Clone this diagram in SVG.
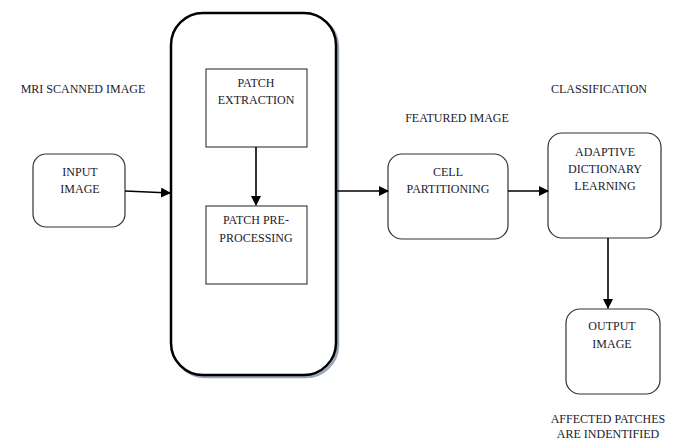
<svg xmlns="http://www.w3.org/2000/svg" width="681" height="441" viewBox="0 0 681 441">
<style>
text{font-size:12px;fill:#1a1a2e;text-anchor:middle}
.rb{fill:#fff;stroke:#333;stroke-width:1.2}
.sq{fill:#fff;stroke:#444;stroke-width:1.2}
.ln{stroke:#000;stroke-width:1.6;fill:none}
</style>
<defs>
<marker id="ah" markerWidth="10" markerHeight="10" refX="9" refY="5" orient="auto" markerUnits="userSpaceOnUse">
<path d="M0,0 L10,5 L0,10 Z" fill="#000"/>
</marker>
</defs>
<rect width="681" height="441" fill="#fff"/>
<g font-family="Liberation Serif, serif">
<text x="83" y="93">MRI SCANNED IMAGE</text>
<text x="457" y="122">FEATURED IMAGE</text>
<text x="599" y="93">CLASSIFICATION</text>
<text x="608" y="423">AFFECTED PATCHES</text>
<text x="608" y="438">ARE INDENTIFIED</text>
<g id="input">
<rect class="rb" x="33" y="154" width="92" height="73" rx="13"/>
<text x="80" y="176">INPUT</text>
<text x="80" y="193">IMAGE</text>
</g>
<g id="container">
<rect x="173" y="15" width="165" height="362" rx="32" fill="none" stroke="#9aa6b8" stroke-width="2.5"/>
<rect x="171" y="13" width="165" height="362" rx="32" fill="#fff" stroke="#000" stroke-width="2.5"/>
</g>
<g id="extraction">
<rect class="sq" x="206" y="69" width="101" height="78"/>
<text x="256" y="87">PATCH</text>
<text x="256" y="104">EXTRACTION</text>
</g>
<g id="preprocessing">
<rect class="sq" x="206" y="206" width="101" height="78"/>
<text x="256" y="224">PATCH PRE-</text>
<text x="256" y="242">PROCESSING</text>
</g>
<g id="cell">
<rect class="rb" x="388" y="154" width="120" height="85" rx="14"/>
<text x="448" y="176">CELL</text>
<text x="448" y="193">PARTITIONING</text>
</g>
<g id="adl">
<rect class="rb" x="548" y="133" width="113" height="105" rx="14"/>
<text x="605" y="156">ADAPTIVE</text>
<text x="605" y="173">DICTIONARY</text>
<text x="605" y="190">LEARNING</text>
</g>
<g id="output">
<rect class="rb" x="566" y="309" width="94" height="85" rx="14"/>
<text x="612" y="330">OUTPUT</text>
<text x="612" y="348">IMAGE</text>
</g>
</g>
<g id="connectors">
<path class="ln" d="M125,191 L170,193" marker-end="url(#ah)"/>
<path class="ln" d="M256,147 L256,205" marker-end="url(#ah)"/>
<path class="ln" d="M337,191 L388,191" marker-end="url(#ah)"/>
<path class="ln" d="M508,191 L548,191" marker-end="url(#ah)"/>
<path class="ln" d="M608,238 L608,308" marker-end="url(#ah)"/>
</g>
</svg>
